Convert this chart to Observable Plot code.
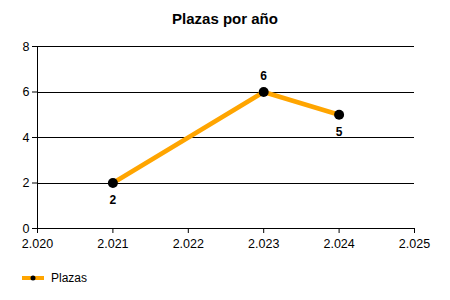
<!DOCTYPE html>
<html>
<head>
<meta charset="utf-8">
<script src="https://cdn.jsdelivr.net/npm/d3@7"></script>
<script src="https://cdn.jsdelivr.net/npm/@observablehq/plot@0.6"></script>
<style>
  html, body { margin: 0; padding: 0; background: #fff; }
  body { width: 450px; height: 300px; position: relative; font-family: "Liberation Sans", Arial, sans-serif; overflow: hidden; }
  #title { height: 30px; line-height: 37px; text-align: center; font-weight: bold; font-size: 15px; color: #000; }
  #chart svg { display: block; }
  #legend { position: absolute; left: 22px; top: 271px; display: flex; align-items: center; font-size: 12px; color: #000; }
</style>
</head>
<body>
<div id="title">Plazas por año</div>
<div id="chart"></div>
<div id="legend"></div>
<script>
const seriesName = "Plazas";
const years = [2021, 2023, 2024];
const plazas = [2, 6, 5];
const xTicks = [2020, 2021, 2022, 2023, 2024, 2025];
const yTicks = [0, 2, 4, 6, 8];

const data = years.map((y, i) => ({year: y, value: plazas[i]}));
// label above for local peaks, below otherwise
data.forEach((d, i) => {
  const nb = [plazas[i - 1], plazas[i + 1]].filter(v => v !== undefined);
  d.above = nb.every(v => d.value > v);
});

const es = d3.formatLocale({decimal: ",", thousands: ".", grouping: [3], currency: ["", " €"]});
const fmtX = es.format(",.0f");

const orange = "#FFA500";

const chart = Plot.plot({
  width: 450,
  height: 226,
  marginTop: 16,
  marginBottom: 28,
  marginLeft: 37,
  marginRight: 36,
  style: {fontFamily: "Liberation Sans, Arial, sans-serif", fontSize: "12px", color: "#000", background: "#fff"},
  x: {domain: [2020, 2025], ticks: xTicks, tickFormat: fmtX, tickSize: 5, tickPadding: 6, label: null},
  y: {domain: [0, 8], ticks: yTicks, tickSize: 5, tickPadding: 3, label: null},
  marks: [
    Plot.gridY(yTicks, {stroke: "#000", strokeOpacity: 1, strokeWidth: 1, shapeRendering: "crispEdges"}),
    Plot.ruleX([2020], {y1: 0, y2: 8, stroke: "#000", shapeRendering: "crispEdges"}),
    Plot.ruleY([0], {stroke: "#000", shapeRendering: "crispEdges"}),
    Plot.axisX({ticks: xTicks, tickFormat: fmtX, tickSize: 5, tickPadding: 6, stroke: "#000", fill: "#000", label: null, fontSize: 12.5}),
    Plot.axisY({ticks: yTicks, tickSize: 5, tickPadding: 3, stroke: "#000", fill: "#000", label: null, fontSize: 12.5}),
    Plot.line(data, {x: "year", y: "value", stroke: orange, strokeWidth: 4.5}),
    Plot.dot(data, {x: "year", y: "value", r: 5, fill: "#000", stroke: "none"}),
    Plot.text(data.filter(d => d.above), {x: "year", y: "value", text: d => String(d.value), dy: -16, fontWeight: "bold", fontSize: 12, fill: "#000"}),
    Plot.text(data.filter(d => !d.above), {x: "year", y: "value", text: d => String(d.value), dy: 17, fontWeight: "bold", fontSize: 12, fill: "#000"})
  ]
});
document.getElementById("chart").appendChild(chart);

// legend
const leg = document.getElementById("legend");
const ns = "http://www.w3.org/2000/svg";
const sw = document.createElementNS(ns, "svg");
sw.setAttribute("width", 24); sw.setAttribute("height", 14);
sw.style.marginRight = "5px";
const ln = document.createElementNS(ns, "line");
ln.setAttribute("x1", 0); ln.setAttribute("x2", 22); ln.setAttribute("y1", 7); ln.setAttribute("y2", 7);
ln.setAttribute("stroke", orange); ln.setAttribute("stroke-width", 4);
const c = document.createElementNS(ns, "circle");
c.setAttribute("cx", 11); c.setAttribute("cy", 7); c.setAttribute("r", 2.5); c.setAttribute("fill", "#000");
sw.appendChild(ln); sw.appendChild(c);
leg.appendChild(sw);
const t = document.createElement("span");
t.textContent = seriesName;
leg.appendChild(t);
</script>
</body>
</html>
